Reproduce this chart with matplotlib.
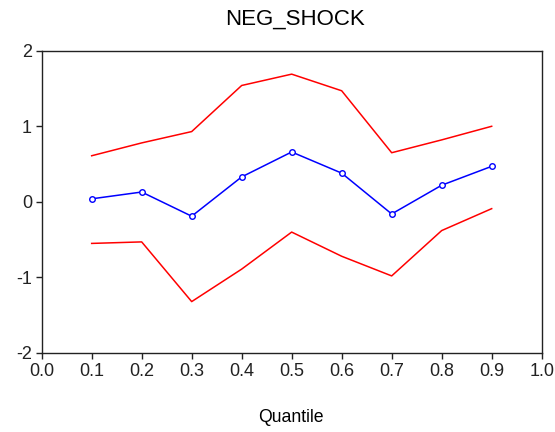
import matplotlib
matplotlib.use("Agg")
import matplotlib.pyplot as plt

plt.rcParams['font.family'] = ['Liberation Sans', 'DejaVu Sans']

quantiles = [0.1, 0.2, 0.3, 0.4, 0.5, 0.6, 0.7, 0.8, 0.9]
estimate = [0.04, 0.13, -0.19, 0.33, 0.66, 0.38, -0.16, 0.22, 0.47]
upper_band = [0.61, 0.78, 0.93, 1.54, 1.69, 1.47, 0.65, 0.82, 1.00]
lower_band = [-0.55, -0.53, -1.32, -0.89, -0.40, -0.72, -0.98, -0.38, -0.09]

x_ticks = [0.0, 0.1, 0.2, 0.3, 0.4, 0.5, 0.6, 0.7, 0.8, 0.9, 1.0]
y_ticks = [-2, -1, 0, 1, 2]

fig = plt.figure(figsize=(5.55, 4.32), dpi=100)
ax = fig.add_axes([0.0751, 0.1829, 0.9009, 0.6997])

ax.plot(quantiles, upper_band, color='#ff0000', linewidth=1.1)
ax.plot(quantiles, lower_band, color='#ff0000', linewidth=1.1)
ax.plot(quantiles, estimate, color='#0000ff', linewidth=1.1,
        marker='o', markersize=4, markerfacecolor='white',
        markeredgecolor='#0000ff', markeredgewidth=1.0)

ax.set_xlim(0.0, 1.0)
ax.set_ylim(-2, 2)
ax.set_xticks(x_ticks)
ax.set_xticklabels([f"{t:.1f}" for t in x_ticks])
ax.set_yticks(y_ticks)
ax.set_yticklabels([str(t) for t in y_ticks])
ax.tick_params(direction='out', length=4, width=1, labelsize=13,
               colors='#222222', pad=3)

for side in ['left', 'bottom', 'top', 'right']:
    ax.spines[side].set_linewidth(1.0)
    ax.spines[side].set_color('#222222')

fig.text(295 / 555, 1 - 19 / 432, "NEG_SHOCK", ha='center', va='center', fontsize=16)
fig.text(291 / 555, 1 - 417 / 432, "Quantile", ha='center', va='center', fontsize=12.7)

fig.savefig("out.png", dpi=100)
